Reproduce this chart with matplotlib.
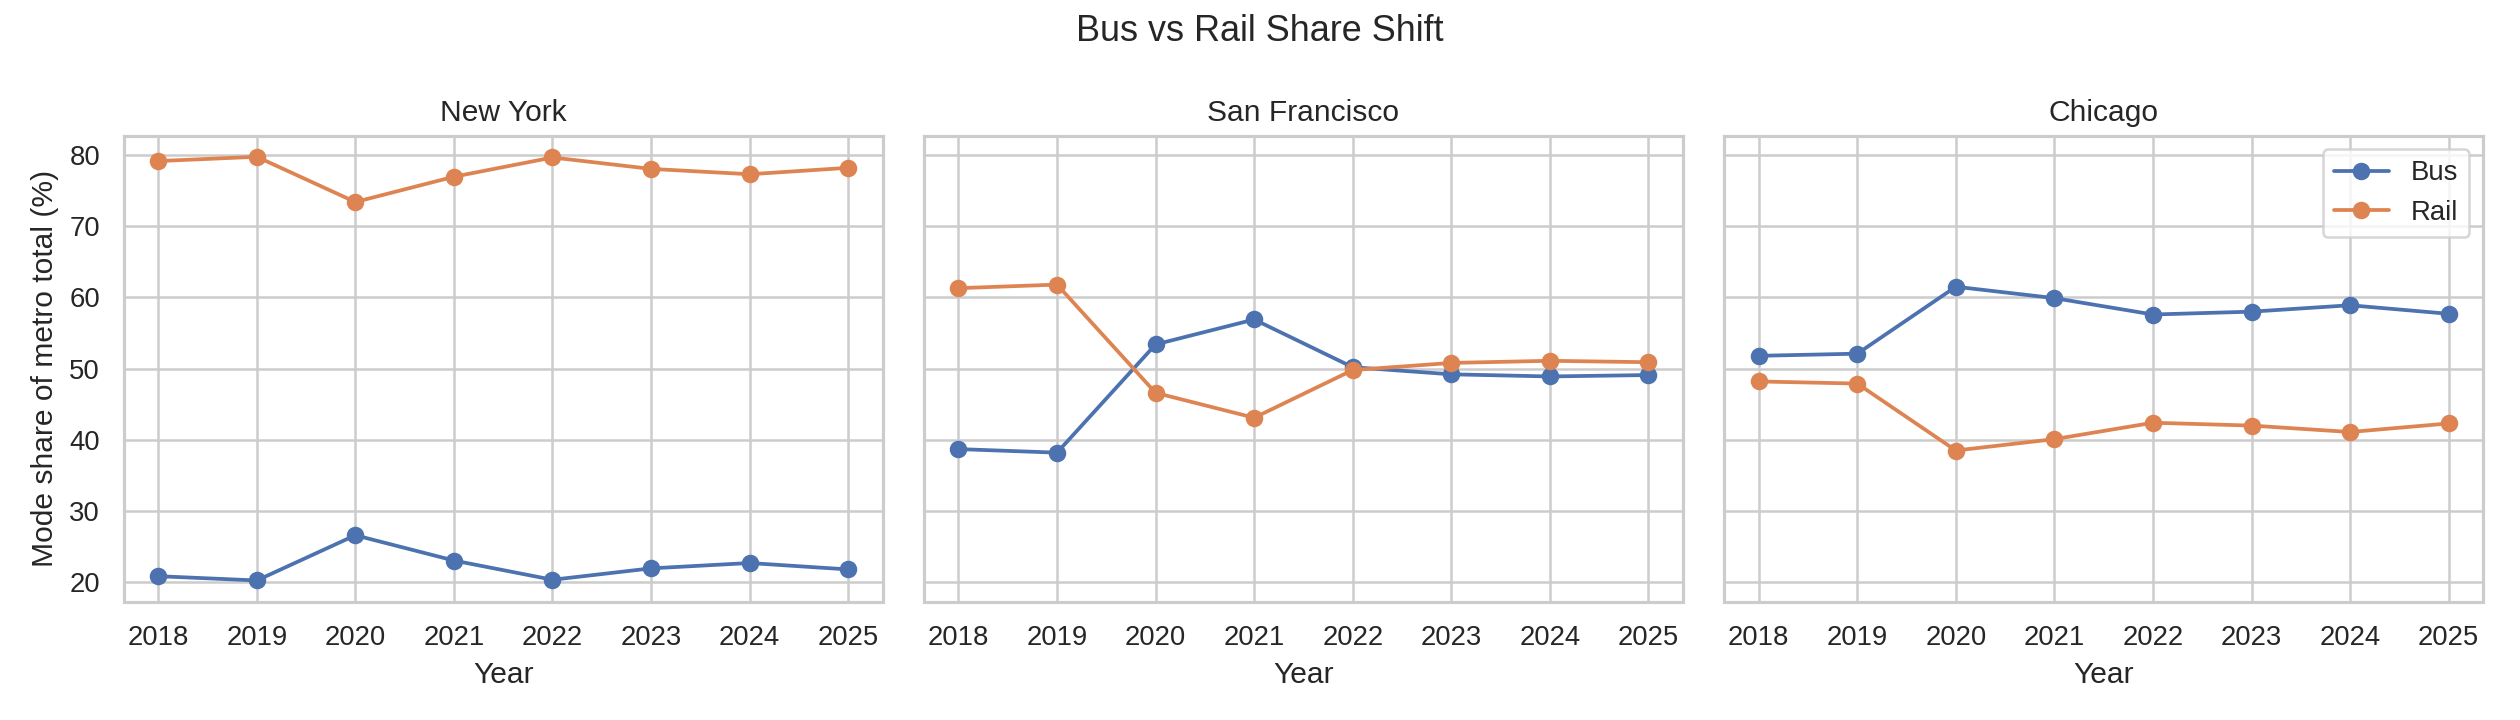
import matplotlib
matplotlib.use("Agg")
import matplotlib.pyplot as plt
import seaborn as sns

years = [2018, 2019, 2020, 2021, 2022, 2023, 2024, 2025]
cities = ["New York", "San Francisco", "Chicago"]

# mode share (%) of metro total
bus_ny = [20.85, 20.25, 26.6, 23.05, 20.35, 21.95, 22.7, 21.8]
rail_ny = [79.15, 79.75, 73.4, 76.95, 79.65, 78.05, 77.3, 78.2]
bus_sf = [38.7, 38.2, 53.4, 56.9, 50.2, 49.2, 48.9, 49.1]
rail_sf = [61.3, 61.8, 46.6, 43.1, 49.8, 50.8, 51.1, 50.9]
bus_chi = [51.8, 52.1, 61.5, 59.9, 57.6, 58.0, 58.9, 57.7]
rail_chi = [48.2, 47.9, 38.5, 40.1, 42.4, 42.0, 41.1, 42.3]

bus = [bus_ny, bus_sf, bus_chi]
rail = [rail_ny, rail_sf, rail_chi]

sns.set_theme(style="whitegrid")
plt.rcParams['font.family'] = ['Liberation Sans', 'DejaVu Sans']

fig, axes = plt.subplots(1, 3, figsize=(14, 4), sharey=True)
for i, ax in enumerate(axes):
    ax.plot(years, bus[i], marker='o', label='Bus')
    ax.plot(years, rail[i], marker='o', label='Rail')
    ax.set_title(cities[i])
    ax.set_xlabel('Year')
    ax.set_xticks(years)
axes[0].set_ylabel('Mode share of metro total (%)')
axes[2].legend(loc='upper right')
fig.suptitle('Bus vs Rail Share Shift')
fig.tight_layout()
fig.savefig('out.png', dpi=180)
